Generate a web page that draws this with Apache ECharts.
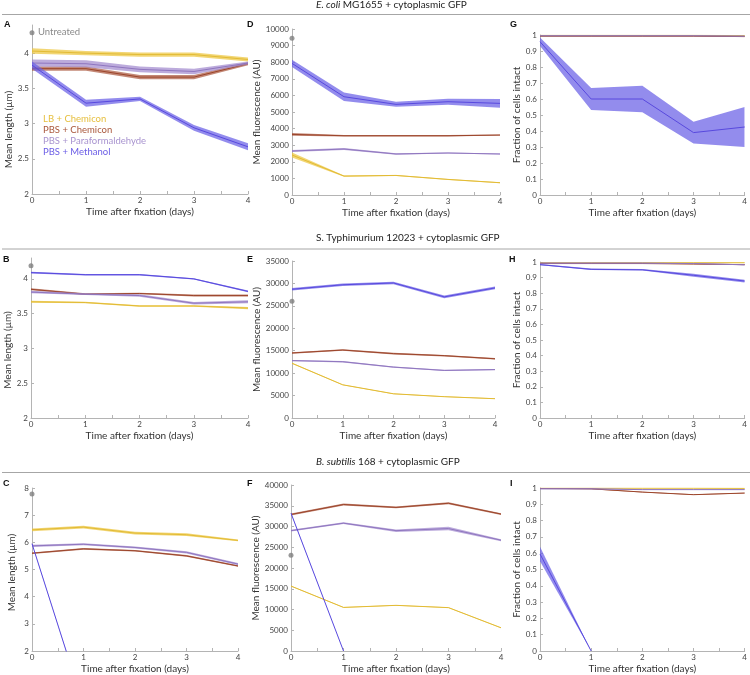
<!DOCTYPE html>
<html><head><meta charset="utf-8">
<script src="https://cdn.jsdelivr.net/npm/echarts@6/dist/echarts.min.js"></script>
<style>html,body{margin:0;padding:0;background:#fff}#c{width:750px;height:675px}</style>
</head><body><div id="c"></div>
<script>
// ---------- DATA ----------
const days = [0, 1, 2, 3, 4];
const dayTicks = ['0', '1', '2', '3', '4'];
const conditions = ['LB + Chemicon', 'PBS + Chemicon', 'PBS + Paraformaldehyde', 'PBS + Methanol'];
const headers = ['E. coli|MG1655 + cytoplasmic GFP', 'S. Typhimurium 12023 + cytoplasmic GFP', 'B. subtilis|168 + cytoplasmic GFP'];
const panelLetters = ['A', 'D', 'G', 'B', 'E', 'H', 'C', 'F', 'I'];

// A: E. coli mean length (µm)
const ecoliLengthMean = [
  [4.03, 4.00, 3.98, 3.98, 3.91],
  [3.78, 3.78, 3.66, 3.66, 3.85],
  [3.86, 3.85, 3.77, 3.74, 3.86],
  [3.83, 3.29, 3.35, 2.94, 2.67]];
const ecoliLengthErr = [
  [0.04, 0.03, 0.03, 0.03, 0.03],
  [0.03, 0.03, 0.03, 0.03, 0.02],
  [0.05, 0.05, 0.04, 0.04, 0.02],
  [0.05, 0.05, 0.03, 0.04, 0.05]];
const ecoliLengthUntreated = 4.29;

// D: E. coli mean fluorescence (AU)
const ecoliFluorMean = [
  [2410, 1140, 1180, 940, 740],
  [3650, 3570, 3570, 3570, 3610],
  [2650, 2770, 2470, 2530, 2470],
  [7930, 5920, 5460, 5620, 5520]];
const ecoliFluorErr = [
  [150, 40, 30, 30, 30],
  [80, 40, 40, 40, 30],
  [60, 60, 40, 30, 30],
  [220, 250, 150, 180, 260]];
const ecoliFluorUntreated = 9440;

// G: E. coli fraction of cells intact
const ecoliIntactMean = [
  [0.998, 0.998, 0.998, 0.998, 0.996],
  [0.993, 0.993, 0.993, 0.993, 0.99],
  [0.995, 0.995, 0.995, 0.995, 0.993],
  [0.958, 0.60, 0.60, 0.39, 0.425]];
const ecoliIntactErr = [
  [0.002, 0.002, 0.002, 0.002, 0.002],
  [0.002, 0.002, 0.002, 0.002, 0.002],
  [0.002, 0.002, 0.002, 0.002, 0.002],
  [0.027, 0.068, 0.083, 0.068, 0.125]];

// B: S. Typhimurium mean length (µm)
const salmLengthMean = [
  [3.67, 3.66, 3.61, 3.61, 3.58],
  [3.85, 3.78, 3.79, 3.76, 3.76],
  [3.81, 3.78, 3.76, 3.65, 3.67],
  [4.09, 4.06, 4.06, 4.00, 3.82]];
const salmLengthErr = [
  [0.015, 0.012, 0.012, 0.012, 0.015],
  [0.015, 0.012, 0.012, 0.015, 0.015],
  [0.018, 0.012, 0.018, 0.018, 0.022],
  [0.012, 0.01, 0.01, 0.01, 0.012]];
const salmLengthUntreated = 4.19;

// E: S. Typhimurium mean fluorescence (AU)
const salmFluorMean = [
  [12200, 7400, 5400, 4750, 4300],
  [14500, 15150, 14350, 13900, 13200],
  [12800, 12550, 11350, 10600, 10800],
  [28700, 29700, 30100, 27000, 29000]];
const salmFluorErr = [
  [100, 80, 80, 80, 80],
  [170, 170, 170, 170, 170],
  [150, 150, 150, 150, 150],
  [300, 280, 280, 300, 320]];
const salmFluorUntreated = 26000;

// H: S. Typhimurium fraction of cells intact
const salmIntactMean = [
  [0.995, 0.995, 0.995, 0.995, 0.995],
  [0.99, 0.99, 0.99, 0.987, 0.983],
  [0.993, 0.993, 0.993, 0.99, 0.982],
  [0.983, 0.953, 0.95, 0.915, 0.878]];
const salmIntactErr = [
  [0.002, 0.002, 0.002, 0.002, 0.002],
  [0.002, 0.002, 0.002, 0.002, 0.002],
  [0.002, 0.002, 0.002, 0.002, 0.003],
  [0.004, 0.005, 0.005, 0.009, 0.009]];

// C: B. subtilis mean length (µm)
const bsubLengthMean = [
  [6.46, 6.56, 6.34, 6.28, 6.07],
  [5.60, 5.76, 5.69, 5.50, 5.13],
  [5.87, 5.93, 5.81, 5.63, 5.20],
  [5.95, 0, null, null, null]];
const bsubLengthErr = [
  [0.05, 0.05, 0.05, 0.05, 0.03],
  [0.03, 0.03, 0.03, 0.03, 0.03],
  [0.04, 0.04, 0.04, 0.04, 0.04],
  [0.01, 0.01, null, null, null]];
const bsubLengthUntreated = 7.78;

// F: B. subtilis mean fluorescence (AU)
const bsubFluorMean = [
  [15650, 10500, 11000, 10450, 5600],
  [32900, 35300, 34600, 35600, 33000],
  [29000, 30800, 29000, 29500, 26700],
  [33200, 0, null, null, null]];
const bsubFluorErr = [
  [90, 90, 90, 90, 90],
  [220, 220, 220, 220, 220],
  [220, 220, 300, 420, 250],
  [80, 0, null, null, null]];
const bsubFluorUntreated = 23100;

// I: B. subtilis fraction of cells intact
const bsubIntactMean = [
  [0.999, 0.999, 0.999, 0.999, 0.998],
  [0.997, 0.995, 0.975, 0.959, 0.969],
  [0.995, 0.995, 0.99, 0.99, 0.99],
  [0.595, 0, null, null, null]];
const bsubIntactErr = [
  [0.002, 0.002, 0.002, 0.002, 0.002],
  [0.002, 0.002, 0.002, 0.002, 0.002],
  [0.002, 0.002, 0.002, 0.002, 0.002],
  [0.045, 0, null, null, null]];

// ---------- STYLE ----------
const lineColors = ['#e2bb35', '#9c452b', '#8f76bf', '#5849de'];
const bandColors = ['rgba(238,200,70,0.75)', 'rgba(170,85,60,0.7)', 'rgba(160,135,205,0.7)', 'rgba(105,95,230,0.72)'];
const legendColors = ['#e6bf3e', '#a9573b', '#a893cf', '#6a5ce6'];
const FONT = 'Lato';

const panels = [
  {mean: ecoliLengthMean, err: ecoliLengthErr, untreated: ecoliLengthUntreated, grid: [32, 25, 216, 169], y: [2, 4.4, 0.5], name: 'Mean length (µm)', gap: 16, pad: 40, hideMax: true},
  {mean: ecoliFluorMean, err: ecoliFluorErr, untreated: ecoliFluorUntreated, grid: [292, 29, 208, 166], y: [0, 10000, 1000], name: 'Mean fluorescence (AU)', gap: 26, pad: 0},
  {mean: ecoliIntactMean, err: ecoliIntactErr, untreated: null, grid: [540, 35, 207, 160], y: [0, 1, 0.1], name: 'Fraction of cells intact', gap: 16, pad: 0},
  {mean: salmLengthMean, err: salmLengthErr, untreated: salmLengthUntreated, grid: [31, 258, 217, 160], y: [2, 4.3, 0.5], name: 'Mean length (µm)', gap: 15, pad: 24, hideMax: true},
  {mean: salmFluorMean, err: salmFluorErr, untreated: salmFluorUntreated, grid: [292, 261, 203, 157], y: [0, 35000, 5000], name: 'Mean fluorescence (AU)', gap: 27, pad: 0},
  {mean: salmIntactMean, err: salmIntactErr, untreated: null, grid: [540, 262, 206, 156], y: [0, 1, 0.1], name: 'Fraction of cells intact', gap: 16, pad: 0},
  {mean: bsubLengthMean, err: bsubLengthErr, untreated: bsubLengthUntreated, grid: [32, 488, 206, 163], y: [2, 8, 1], name: 'Mean length (µm)', gap: 15, pad: 6},
  {mean: bsubFluorMean, err: bsubFluorErr, untreated: bsubFluorUntreated, grid: [291, 485, 210, 166], y: [0, 40000, 5000], name: 'Mean fluorescence (AU)', gap: 27, pad: 0},
  {mean: bsubIntactMean, err: bsubIntactErr, untreated: null, grid: [540, 488, 207, 163], y: [0, 1, 0.1], name: 'Fraction of cells intact', gap: 16, pad: 0}
];

function bandRenderer(rows, color) {
  return function (params, api) {
    if (params.dataIndex !== 0) return;
    const lower = [], upper = [];
    rows.forEach(r => {
      if (r[1] == null) return;
      lower.push(api.coord([r[0], r[1]]));
      upper.push(api.coord([r[0], r[2]]));
    });
    if (lower.length < 2) return;
    const pts = lower.concat(upper.reverse());
    const cs = params.coordSys;
    return {
      type: 'group',
      clipPath: {type: 'rect', shape: {x: cs.x, y: cs.y, width: cs.width, height: cs.height}},
      children: [{type: 'polygon', shape: {points: pts}, style: {fill: color, stroke: null}}]
    };
  };
}

const grids = [], xAxes = [], yAxes = [], series = [];
panels.forEach((p, pi) => {
  const [l, t, w, h] = p.grid;
  grids.push({left: l, top: t, width: w, height: h, containLabel: false});
  xAxes.push({
    type: 'value', gridIndex: pi, min: 0, max: 4, interval: 1,
    name: 'Time after fixation (days)', nameLocation: 'middle', nameGap: 13,
    nameTextStyle: {fontFamily: FONT, fontSize: 10, color: '#333', verticalAlign: 'top'},
    axisLine: {show: true, lineStyle: {color: '#b4b4b4', width: 1}},
    axisTick: {show: true, inside: true, length: 3, lineStyle: {color: '#b4b4b4'}},
    minorTick: {show: true, splitNumber: 2, length: 3, lineStyle: {color: '#b4b4b4'}},
    axisLabel: {fontFamily: FONT, fontSize: 8, color: '#444', margin: 2, formatter: v => dayTicks[days.indexOf(v)] ?? ''},
    splitLine: {show: false}
  });
  yAxes.push({
    type: 'value', gridIndex: pi, min: p.y[0], max: p.y[1], interval: p.y[2],
    name: p.name, nameLocation: 'middle', nameGap: p.gap, nameRotate: 90,
    nameTextStyle: {fontFamily: FONT, fontSize: 10, color: '#333', padding: [0, p.pad, 0, 0]},
    axisLine: {show: true, lineStyle: {color: '#b4b4b4', width: 1}},
    axisTick: {show: true, inside: true, length: 3, lineStyle: {color: '#b4b4b4'}},
    axisLabel: {fontFamily: FONT, fontSize: 8, color: '#444', margin: 3, showMaxLabel: !p.hideMax,
      formatter: v => String(Math.round(v * 1000) / 1000)},
    splitLine: {show: false}
  });
  conditions.forEach((cname, ci) => {
    const m = p.mean[ci], e = p.err[ci];
    const rows = days.map((d, i) => [d, m[i] == null ? null : m[i] - e[i], m[i] == null ? null : m[i] + e[i]]);
    series.push({
      type: 'custom', xAxisIndex: pi, yAxisIndex: pi, silent: true,
      renderItem: bandRenderer(rows, bandColors[ci]),
      data: rows.filter(r => r[1] != null), encode: {x: 0, y: [1, 2]}, z: 2 + ci
    });
    series.push({
      name: cname, type: 'line', xAxisIndex: pi, yAxisIndex: pi, symbol: 'none', silent: true,
      data: days.map((d, i) => [d, m[i]]),
      lineStyle: {color: lineColors[ci], width: 1}, z: 2 + ci
    });
  });
  if (p.untreated != null) {
    series.push({
      name: 'Untreated', type: 'scatter', xAxisIndex: pi, yAxisIndex: pi, symbolSize: 5,
      data: [[0, p.untreated]], itemStyle: {color: '#7f7f7f'}, clip: false, z: 10
    });
  }
});

const graphics = [];
const headerY = [6, 239, 463];
const ruleY = [14.5, 249, 472.5];
headers.forEach((htxt, i) => {
  const parts = htxt.split('|');
  const rich = parts.length > 1 ? '{i|' + parts[0] + '} ' + parts[1] : parts[0];
  graphics.push({type: 'text', left: 316, top: headerY[i] - 6,
    style: {text: rich, fontFamily: FONT, fontSize: 10, fill: '#222',
      rich: {i: {fontStyle: 'italic', fontFamily: FONT, fontSize: 10, fill: '#222'}}}});
  graphics.push({type: 'line', shape: {x1: 2, y1: ruleY[i], x2: 750, y2: ruleY[i]}, style: {stroke: '#a6a6a6', lineWidth: 1}});
});
const letterPos = [[4, 20], [247, 20], [510, 20], [3, 255], [247, 255], [509, 255], [3, 479], [247, 479], [510, 479]];
panelLetters.forEach((L, i) => {
  graphics.push({type: 'text', x: letterPos[i][0], y: letterPos[i][1],
    style: {text: L, fontFamily: 'Liberation Sans', fontWeight: 'bold', fontSize: 9, fill: '#111'}});
});
graphics.push({type: 'text', x: 38, y: 27, style: {text: 'Untreated', fontFamily: FONT, fontSize: 9.5, fill: '#8a8a8a'}});
conditions.forEach((c, i) => {
  graphics.push({type: 'text', x: 43, y: 114 + i * 11, style: {text: c, fontFamily: FONT, fontSize: 9.5, fill: legendColors[i]}});
});

const chart = echarts.init(document.getElementById('c'), null, {renderer: 'canvas'});
chart.setOption({
  animation: false,
  backgroundColor: '#fff',
  grid: grids, xAxis: xAxes, yAxis: yAxes, series: series,
  graphic: graphics
});
</script></body></html>
